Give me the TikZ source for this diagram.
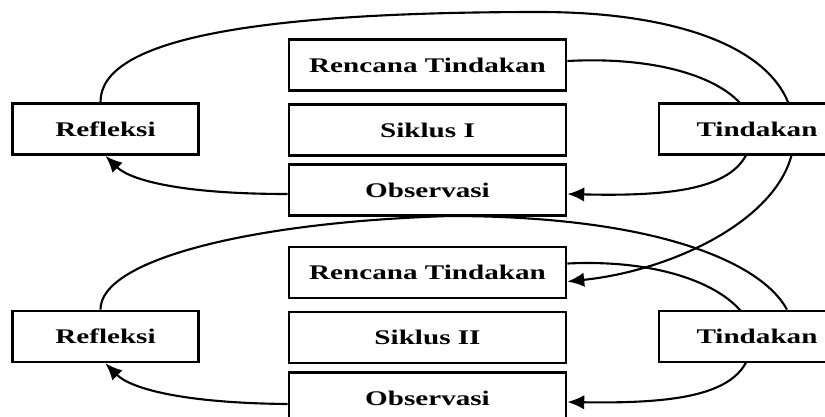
\documentclass[tikz,border=0pt]{standalone}
\usepackage{fontspec}
\setmainfont{Liberation Serif}
\newfontfamily\lebar[FakeStretch=1.4]{Liberation Serif}
\usetikzlibrary{arrows.meta,backgrounds,calc}
\newlength{\px}
\setlength{\px}{0.25mm}
\begin{document}
\begin{tikzpicture}[x=\px,y=\px,
  kotak/.style={draw,line width=2pt,fill=white,inner sep=0pt,minimum height=51\px,
    font=\lebar\bfseries\fontsize{14.8}{16}\selectfont},
  tengah/.style={kotak,minimum width=277\px},
  samping/.style={kotak,minimum width=186\px},
  panah/.style={line width=1.5pt,-{Latex[length=4.2mm,width=3.6mm]}},
  garis/.style={line width=1.5pt}]
\useasboundingbox(0,0)rectangle(825,-416);
% siklus I
\node[samping](ref1)at(105.5,-129){Refleksi};
\node[tengah](ren1)at(427.5,-65){Rencana Tindakan};
\node[tengah](sik1)at(427.5,-130){Siklus I};
\node[tengah](obs1)at(427.5,-190){Observasi};
\node[samping,minimum width=196\px](tin1)at(757,-129){Tindakan};
% siklus II
\node[samping](ref2)at(105.5,-336.5){Refleksi};
\node[tengah](ren2)at(427.5,-272.5){Rencana Tindakan};
\node[tengah](sik2)at(427.5,-337.5){Siklus II};
\node[tengah](obs2)at(427.5,-398){Observasi};
\node[samping,minimum width=196\px](tin2)at(757,-336.5){Tindakan};
%
\coordinate(puncak1)at(540,-12);
\coordinate(puncak2)at(450,-216);
\begin{scope}[on background layer]
\draw[panah]($(ref1.north)+(-5,0)$)..controls(100,-40)and(250,-12)..(puncak1)
  ..controls(680,-12)and(790,-50)..($(tin1.center)+(37,0)$)
  ..controls(800,-210)and(680,-270)..($(ren2.east)+(0,-9)$);
\draw[panah]($(ren1.east)+(0,4)$)..controls(680,-55)and(750,-90)..($(tin1.center)+(-5,0)$)
  ..controls(752,-185)and(690,-197)..($(obs1.east)+(0,-4)$);
\draw[panah]($(obs1.west)+(0,-4)$)..controls(180,-194)and(130,-180)..(ref1.south);
%
\draw[garis]($(ref2.north)+(-5,0)$)..controls(100,-260)and(250,-222)..(puncak2)
  ..controls(650,-216)and(760,-260)..($(tin2.north)+(30,0)$);
\draw[panah]($(ren2.east)+(0,9)$)..controls(680,-258)and(750,-298)..($(tin2.center)+(-5,0)$)
  ..controls(752,-392)and(690,-404)..($(obs2.east)+(0,-4)$);
\draw[panah]($(obs2.west)+(0,-6)$)..controls(180,-403)and(130,-388)..(ref2.south);
\end{scope}
\end{tikzpicture}
\end{document}
